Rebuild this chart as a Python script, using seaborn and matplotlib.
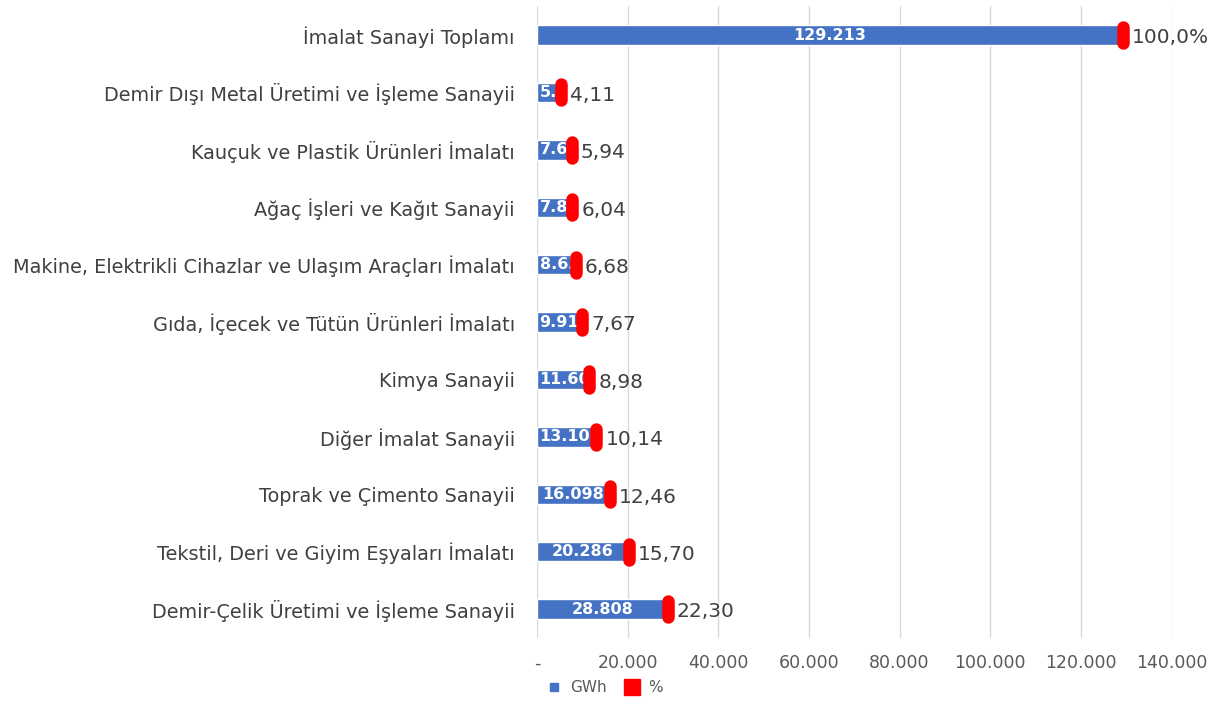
import numpy as np
import pandas as pd
import matplotlib
matplotlib.use('Agg')
import matplotlib.pyplot as plt
from matplotlib.lines import Line2D
import seaborn as sns

# veriler
sektorler = [
    'İmalat Sanayi Toplamı',
    'Demir Dışı Metal Üretimi ve İşleme Sanayii',
    'Kauçuk ve Plastik Ürünleri İmalatı',
    'Ağaç İşleri ve Kağıt Sanayii',
    'Makine, Elektrikli Cihazlar ve Ulaşım Araçları İmalatı',
    'Gıda, İçecek ve Tütün Ürünleri İmalatı',
    'Kimya Sanayii',
    'Diğer İmalat Sanayii',
    'Toprak ve Çimento Sanayii',
    'Tekstil, Deri ve Giyim Eşyaları İmalatı',
    'Demir-Çelik Üretimi ve İşleme Sanayii',
]
gwh = [129213, 5311, 7675, 7805, 8631, 9911, 11601, 13103, 16098, 20286, 28808]
yuzde = [100.0, 4.11, 5.94, 6.04, 6.68, 7.67, 8.98, 10.14, 12.46, 15.70, 22.30]
x_ticks = [0, 20000, 40000, 60000, 80000, 100000, 120000, 140000]

df = pd.DataFrame({'sektor': sektorler, 'gwh': gwh, 'yuzde': yuzde})

def tr_fmt(v):
    return f'{v:,.0f}'.replace(',', '.')

sns.set_style('white')
plt.rcParams['font.family'] = ['DejaVu Sans']

fig = plt.figure(figsize=(12.23, 7.04), dpi=100)
ax = fig.add_axes([0.439, 0.094, 0.519, 0.897])

sns.barplot(data=df, x='gwh', y='sektor', orient='h', color='#4472C4',
            width=0.34, saturation=1, ax=ax)
bars = ax.patches

# etiket yarı genişliği (veri biriminde, yaklaşık)
half_w = 7000

for i, row in df.iterrows():
    # kırmızı yüzde işareti
    ax.plot([row['gwh'], row['gwh']], [i - 0.14, i + 0.14], color='#FF0000',
            lw=9, solid_capstyle='round', zorder=4)
    # GWh etiketi - çubuğun içine kırpılmış (Excel'deki gibi)
    cx = row['gwh'] / 2
    if cx - half_w < 0:
        t = ax.text(600, i, tr_fmt(row['gwh']), color='white', fontsize=11.5,
                    fontweight='bold', ha='left', va='center', zorder=3)
    else:
        t = ax.text(cx, i, tr_fmt(row['gwh']), color='white', fontsize=11.5,
                    fontweight='bold', ha='center', va='center', zorder=3)
    t.set_clip_path(bars[i])
    # yüzde etiketi
    lbl = '100,0%' if row['yuzde'] == 100 else f"{row['yuzde']:.2f}".replace('.', ',')
    ax.text(row['gwh'] + 2000, i + 0.05, lbl, color='#404040', fontsize=14.5,
            ha='left', va='center', zorder=5)

ax.set_xlim(0, 140000)
ax.set_ylim(10.5, -0.5)
ax.set_xticks(x_ticks)
ax.set_xticklabels(['-'] + [tr_fmt(v) for v in x_ticks[1:]], fontsize=12.5, color='#595959')
ax.tick_params(axis='y', labelsize=13.9, labelcolor='#404040', pad=16, length=0)
ax.tick_params(axis='x', length=0, pad=12)
ax.xaxis.grid(True, color='#D9D9D9', lw=1)
ax.set_axisbelow(True)
ax.set_xlabel('')
ax.set_ylabel('')
for s in ax.spines.values():
    s.set_visible(False)

handles = [Line2D([], [], marker='s', ls='', color='#4472C4', markersize=6),
           Line2D([], [], marker='s', ls='', color='#FF0000', markersize=11)]
fig.legend(handles, ['GWh', '%'], loc='center left', bbox_to_anchor=(0.429, 0.023),
           ncol=2, frameon=False, fontsize=11, handletextpad=0.1, columnspacing=0.6,
           labelcolor='#595959')

fig.savefig('out.png', dpi=100)
